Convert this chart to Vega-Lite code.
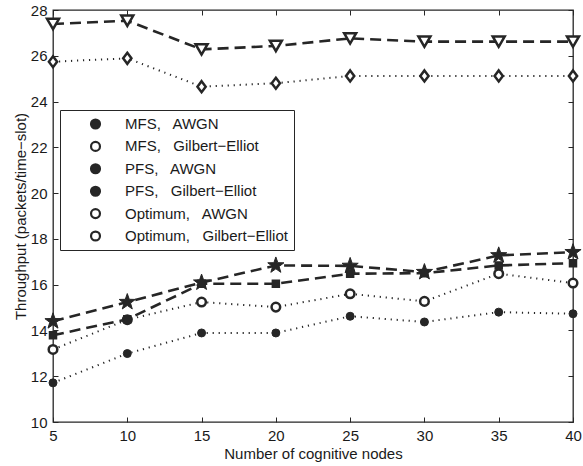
{
  "$schema": "https://vega.github.io/schema/vega-lite/v6.json",
  "width": 520,
  "height": 412,
  "autosize": {"type": "none"},
  "padding": {"left": 53, "top": 10, "right": 10, "bottom": 44},
  "background": "white",
  "config": {
    "font": "Liberation Sans",
    "view": {"stroke": "#262626", "strokeWidth": 1.3},
    "axis": {
      "grid": false, "domain": false, "tickSize": -5, "tickColor": "#262626", "tickWidth": 1,
      "labelFont": "Liberation Sans", "labelFontSize": 15, "labelColor": "#1a1a1a",
      "titleFont": "Liberation Sans", "titleFontSize": 15, "titleFontWeight": "normal", "titleColor": "#1a1a1a",
      "labelFlush": false, "labelOverlap": false
    },
    "legend": {
      "orient": "none", "legendX": 7, "legendY": 100,
      "padding": 6, "rowPadding": 6.4, "clipHeight": 16, "gridAlign": "all",
      "symbolOffset": 22, "labelOffset": 22,
      "labelFontSize": 15, "labelFont": "Liberation Sans", "labelColor": "#1a1a1a", "labelLimit": 300,
      "strokeColor": "#262626", "fillColor": "white", "symbolSize": 80, "symbolStrokeWidth": 2.2,
      "symbolStrokeColor": "#262626"
    }
  },
  "data": {"values": [
    {"nodes": 5, "throughput": 14.4, "series": "MFS,\u00a0\u00a0 AWGN"},
    {"nodes": 10, "throughput": 15.24, "series": "MFS,\u00a0\u00a0 AWGN"},
    {"nodes": 15, "throughput": 16.09, "series": "MFS,\u00a0\u00a0 AWGN"},
    {"nodes": 20, "throughput": 16.84, "series": "MFS,\u00a0\u00a0 AWGN"},
    {"nodes": 25, "throughput": 16.82, "series": "MFS,\u00a0\u00a0 AWGN"},
    {"nodes": 30, "throughput": 16.55, "series": "MFS,\u00a0\u00a0 AWGN"},
    {"nodes": 35, "throughput": 17.28, "series": "MFS,\u00a0\u00a0 AWGN"},
    {"nodes": 40, "throughput": 17.42, "series": "MFS,\u00a0\u00a0 AWGN"},
    {"nodes": 5, "throughput": 13.17, "series": "MFS,\u00a0\u00a0 Gilbert−Elliot"},
    {"nodes": 10, "throughput": 14.47, "series": "MFS,\u00a0\u00a0 Gilbert−Elliot"},
    {"nodes": 15, "throughput": 15.24, "series": "MFS,\u00a0\u00a0 Gilbert−Elliot"},
    {"nodes": 20, "throughput": 15.02, "series": "MFS,\u00a0\u00a0 Gilbert−Elliot"},
    {"nodes": 25, "throughput": 15.6, "series": "MFS,\u00a0\u00a0 Gilbert−Elliot"},
    {"nodes": 30, "throughput": 15.27, "series": "MFS,\u00a0\u00a0 Gilbert−Elliot"},
    {"nodes": 35, "throughput": 16.48, "series": "MFS,\u00a0\u00a0 Gilbert−Elliot"},
    {"nodes": 40, "throughput": 16.07, "series": "MFS,\u00a0\u00a0 Gilbert−Elliot"},
    {"nodes": 5, "throughput": 13.79, "series": "PFS,\u00a0\u00a0 AWGN"},
    {"nodes": 10, "throughput": 14.49, "series": "PFS,\u00a0\u00a0 AWGN"},
    {"nodes": 15, "throughput": 16.04, "series": "PFS,\u00a0\u00a0 AWGN"},
    {"nodes": 20, "throughput": 16.04, "series": "PFS,\u00a0\u00a0 AWGN"},
    {"nodes": 25, "throughput": 16.48, "series": "PFS,\u00a0\u00a0 AWGN"},
    {"nodes": 30, "throughput": 16.5, "series": "PFS,\u00a0\u00a0 AWGN"},
    {"nodes": 35, "throughput": 16.84, "series": "PFS,\u00a0\u00a0 AWGN"},
    {"nodes": 40, "throughput": 16.94, "series": "PFS,\u00a0\u00a0 AWGN"},
    {"nodes": 5, "throughput": 11.71, "series": "PFS,\u00a0\u00a0 Gilbert−Elliot"},
    {"nodes": 10, "throughput": 12.99, "series": "PFS,\u00a0\u00a0 Gilbert−Elliot"},
    {"nodes": 15, "throughput": 13.89, "series": "PFS,\u00a0\u00a0 Gilbert−Elliot"},
    {"nodes": 20, "throughput": 13.89, "series": "PFS,\u00a0\u00a0 Gilbert−Elliot"},
    {"nodes": 25, "throughput": 14.62, "series": "PFS,\u00a0\u00a0 Gilbert−Elliot"},
    {"nodes": 30, "throughput": 14.37, "series": "PFS,\u00a0\u00a0 Gilbert−Elliot"},
    {"nodes": 35, "throughput": 14.8, "series": "PFS,\u00a0\u00a0 Gilbert−Elliot"},
    {"nodes": 40, "throughput": 14.73, "series": "PFS,\u00a0\u00a0 Gilbert−Elliot"},
    {"nodes": 5, "throughput": 27.39, "series": "Optimum,\u00a0\u00a0 AWGN"},
    {"nodes": 10, "throughput": 27.53, "series": "Optimum,\u00a0\u00a0 AWGN"},
    {"nodes": 15, "throughput": 26.28, "series": "Optimum,\u00a0\u00a0 AWGN"},
    {"nodes": 20, "throughput": 26.43, "series": "Optimum,\u00a0\u00a0 AWGN"},
    {"nodes": 25, "throughput": 26.76, "series": "Optimum,\u00a0\u00a0 AWGN"},
    {"nodes": 30, "throughput": 26.62, "series": "Optimum,\u00a0\u00a0 AWGN"},
    {"nodes": 35, "throughput": 26.62, "series": "Optimum,\u00a0\u00a0 AWGN"},
    {"nodes": 40, "throughput": 26.62, "series": "Optimum,\u00a0\u00a0 AWGN"},
    {"nodes": 5, "throughput": 25.74, "series": "Optimum,\u00a0\u00a0 Gilbert−Elliot"},
    {"nodes": 10, "throughput": 25.89, "series": "Optimum,\u00a0\u00a0 Gilbert−Elliot"},
    {"nodes": 15, "throughput": 24.65, "series": "Optimum,\u00a0\u00a0 Gilbert−Elliot"},
    {"nodes": 20, "throughput": 24.8, "series": "Optimum,\u00a0\u00a0 Gilbert−Elliot"},
    {"nodes": 25, "throughput": 25.12, "series": "Optimum,\u00a0\u00a0 Gilbert−Elliot"},
    {"nodes": 30, "throughput": 25.12, "series": "Optimum,\u00a0\u00a0 Gilbert−Elliot"},
    {"nodes": 35, "throughput": 25.12, "series": "Optimum,\u00a0\u00a0 Gilbert−Elliot"},
    {"nodes": 40, "throughput": 25.12, "series": "Optimum,\u00a0\u00a0 Gilbert−Elliot"}
  ]},
  "layer": [
    {
      "mark": {"type": "line", "color": "#262626"},
      "encoding": {
        "x": {"field": "nodes", "type": "quantitative", "scale": {"domain": [5, 40]},
              "axis": {"orient": "bottom", "values": [5, 10, 15, 20, 25, 30, 35, 40], "title": "Number of cognitive nodes", "labelPadding": 11, "titlePadding": 3}},
        "y": {"field": "throughput", "type": "quantitative", "scale": {"domain": [10, 28]},
              "axis": {"orient": "left", "values": [10, 12, 14, 16, 18, 20, 22, 24, 26, 28], "title": "Throughput (packets/time−slot)", "labelPadding": 11, "titlePadding": 2}},
        "detail": {"field": "series", "type": "nominal"},
        "strokeDash": {"field": "series", "type": "nominal",
          "scale": {"range": [[11, 6], [1.2, 4.8], [11, 6], [1.2, 4.8], [11, 6], [1.2, 4.8]]}, "legend": null},
        "strokeWidth": {"field": "series", "type": "nominal",
          "scale": {"type": "ordinal", "range": [2.6, 2, 2.6, 2, 2.6, 2]}, "legend": null}
      }
    },
    {
      "mark": {"type": "point", "filled": true, "stroke": "#262626", "opacity": 1},
      "encoding": {
        "x": {"field": "nodes", "type": "quantitative", "scale": {"domain": [5, 40]},
              "axis": {"orient": "top", "values": [5, 10, 15, 20, 25, 30, 35, 40], "labels": false, "title": null}},
        "y": {"field": "throughput", "type": "quantitative", "scale": {"domain": [10, 28]},
              "axis": {"orient": "right", "values": [10, 12, 14, 16, 18, 20, 22, 24, 26, 28], "labels": false, "title": null}},
        "fill": {"field": "series", "type": "nominal",
          "scale": {"domain": ["MFS,\u00a0\u00a0 AWGN", "MFS,\u00a0\u00a0 Gilbert−Elliot", "PFS,\u00a0\u00a0 AWGN", "PFS,\u00a0\u00a0 Gilbert−Elliot", "Optimum,\u00a0\u00a0 AWGN", "Optimum,\u00a0\u00a0 Gilbert−Elliot"],
                    "range": ["#262626", "#ffffff", "#262626", "#262626", "#ffffff", "#ffffff"]},
          "legend": {"title": null, "orient": "none", "legendX": 7, "legendY": 100}
        },
        "shape": {"field": "series", "type": "nominal",
          "scale": {"range": ["M0,-1L0.235,-0.324L0.951,-0.309L0.38,0.124L0.588,0.809L0,0.4L-0.588,0.809L-0.38,0.124L-0.951,-0.309L-0.235,-0.324Z", "circle", "triangle-down", "M0,-1L0.75,0L0,1L-0.75,0Z", "square", "circle"]},
          "legend": null},
        "size": {"field": "series", "type": "nominal",
          "scale": {"type": "ordinal", "range": [289, 74, 144, 121, 49, 64]},
          "legend": null},
        "strokeWidth": {"field": "series", "type": "nominal",
          "scale": {"type": "ordinal", "range": [1, 2.5, 2.5, 2.5, 1.5, 1]},
          "legend": null}
      }
    }
  ],
  "resolve": {"scale": {"strokeWidth": "independent"}, "axis": {"x": "independent", "y": "independent"}}
}
